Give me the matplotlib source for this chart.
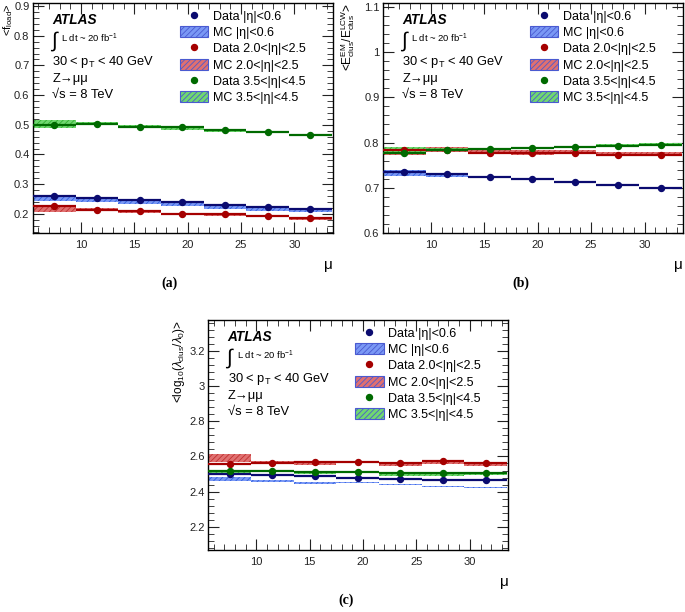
import numpy as np
import matplotlib

matplotlib.use("Agg")
import matplotlib.pyplot as plt
from matplotlib.lines import Line2D
from matplotlib.patches import Patch
from matplotlib.ticker import MultipleLocator, FuncFormatter

plt.rcParams["font.family"] = ["Liberation Sans", "DejaVu Sans"]
plt.rcParams["mathtext.fontset"] = "custom"
plt.rcParams["mathtext.rm"] = "Liberation Sans"
plt.rcParams["mathtext.it"] = "Liberation Sans:italic"
plt.rcParams["hatch.linewidth"] = 0.6

# mu bins (centres, half width 2)
mu = [7.5, 11.5, 15.5, 19.5, 23.5, 27.5, 31.5]
labels = ["Data |\u03b7|<0.6", "MC |\u03b7|<0.6",
          "Data 2.0<|\u03b7|<2.5", "MC 2.0<|\u03b7|<2.5",
          "Data 3.5<|\u03b7|<4.5", "MC 3.5<|\u03b7|<4.5"]

# (a) f_load
a_data_c = [0.259, 0.254, 0.247, 0.240, 0.231, 0.224, 0.216]
a_mc_c = [0.250, 0.245, 0.238, 0.230, 0.223, 0.215, 0.210]
a_data_f = [0.226, 0.214, 0.210, 0.201, 0.199, 0.194, 0.185]
a_mc_f = [0.216, 0.215, 0.209, 0.200, 0.198, 0.192, 0.185]
a_data_v = [0.500, 0.503, 0.493, 0.493, 0.481, 0.477, 0.466]
a_mc_v = [0.502, 0.504, 0.494, 0.489, 0.480, 0.475, 0.465]
a_err_c = [0.007, 0.006, 0.006, 0.005, 0.005, 0.005, 0.005]
a_err_f = [0.010, 0.006, 0.005, 0.004, 0.004, 0.004, 0.004]
a_err_v = [0.013, 0.006, 0.005, 0.006, 0.004, 0.004, 0.003]

# (b) E_EM / E_LCW
b_data_c = [0.735, 0.731, 0.725, 0.719, 0.713, 0.706, 0.700]
b_mc_c = [0.733, 0.729, 0.724, 0.719, 0.713, 0.706, 0.700]
b_data_f = [0.783, 0.784, 0.778, 0.776, 0.776, 0.773, 0.772]
b_mc_f = [0.780, 0.785, 0.780, 0.778, 0.779, 0.776, 0.776]
b_data_v = [0.778, 0.783, 0.786, 0.789, 0.791, 0.792, 0.795]
b_mc_v = [0.785, 0.785, 0.786, 0.788, 0.790, 0.793, 0.797]
b_err_c = [0.006, 0.004, 0.003, 0.002, 0.002, 0.002, 0.002]
b_err_f = [0.007, 0.006, 0.004, 0.005, 0.005, 0.003, 0.003]
b_err_v = [0.006, 0.004, 0.003, 0.003, 0.003, 0.003, 0.003]

# (c) log10(lambda_clus / lambda_0)
c_data_c = [2.500, 2.495, 2.490, 2.480, 2.473, 2.468, 2.467]
c_mc_c = [2.470, 2.460, 2.450, 2.450, 2.440, 2.430, 2.425]
c_data_f = [2.555, 2.562, 2.570, 2.570, 2.562, 2.572, 2.562]
c_mc_f = [2.592, 2.565, 2.562, 2.570, 2.556, 2.565, 2.556]
c_data_v = [2.520, 2.515, 2.510, 2.510, 2.508, 2.505, 2.505]
c_mc_v = [2.510, 2.515, 2.505, 2.510, 2.495, 2.495, 2.500]
c_err_c = [0.012, 0.004, 0.004, 0.003, 0.003, 0.004, 0.004]
c_err_f = [0.022, 0.008, 0.010, 0.006, 0.008, 0.008, 0.008]
c_err_v = [0.010, 0.004, 0.004, 0.004, 0.005, 0.004, 0.004]

DATA_COLORS = ["#0b0b70", "#a50000", "#006a00"]
MC_FILL = ["#7a98f5", "#e07070", "#70d870"]
MC_HATCH = ["#3060e0", "#c03030", "#30b030"]
EDGE = "#4a5ad0"


def draw_panel(ax, datas, mcs, errs, ylim, major, minor, ylabel, label_x, label_fs):
    x = np.asarray(mu)
    for i in range(3):
        mc = np.asarray(mcs[i])
        err = np.asarray(errs[i])
        ax.bar(x, 2 * err, bottom=mc - err, width=4.0, color=MC_FILL[i],
               edgecolor=MC_HATCH[i], linewidth=0, hatch="//////", zorder=2)
    for i in range(3):
        ax.errorbar(x, datas[i], xerr=2.0, fmt="o", color=DATA_COLORS[i],
                    markersize=4.3, elinewidth=1.6, capsize=0, zorder=3)
    ax.set_xlim(5.5, 33.6)
    ax.set_ylim(*ylim)
    ax.xaxis.set_major_locator(MultipleLocator(5))
    ax.xaxis.set_minor_locator(MultipleLocator(1))
    ax.yaxis.set_major_locator(MultipleLocator(major))
    ax.yaxis.set_minor_locator(MultipleLocator(minor))
    ax.yaxis.set_major_formatter(FuncFormatter(lambda v, p: f"{v:g}"))
    ax.tick_params(which="both", direction="in", top=True, right=True,
                   labelsize=8, colors="#222222")
    ax.tick_params(which="major", length=8)
    ax.tick_params(which="minor", length=4)
    ax.tick_params(axis="x", which="major", pad=5)
    ax.tick_params(axis="y", which="major", pad=2.5)
    for s in ax.spines.values():
        s.set_linewidth(1.0)
    ax.set_ylabel(ylabel, fontsize=label_fs, loc="top")
    ax.yaxis.set_label_coords(label_x, 1.0)
    ax.set_xlabel("\u03bc", fontsize=11, loc="right", labelpad=6)

    tx = 0.065
    ax.text(tx, 0.926, "ATLAS", transform=ax.transAxes, fontsize=9.8,
            fontweight="bold", fontstyle="italic", va="center")
    ax.text(tx - 0.008, 0.835, r"$\int$", transform=ax.transAxes, fontsize=15,
            va="center")
    ax.text(tx + 0.03, 0.845, r"L dt ~ 20 fb$^{-1}$", transform=ax.transAxes,
            fontsize=6.8, va="center")
    ax.text(tx, 0.743, r"30 < p$_{\rm T}$ < 40 GeV", transform=ax.transAxes,
            fontsize=9.3, va="center")
    ax.text(tx, 0.67, "Z\u2192\u03bc\u03bc", transform=ax.transAxes, fontsize=9.3,
            va="center")
    ax.text(tx, 0.60, "\u221as = 8 TeV", transform=ax.transAxes, fontsize=9.3,
            va="center")

    handles = []
    for i in range(3):
        handles.append(Line2D([], [], marker="o", linestyle="none",
                              color=DATA_COLORS[i], markersize=4.3))
        handles.append(Patch(facecolor=MC_FILL[i], edgecolor=EDGE,
                             linewidth=0.8, hatch="//////"))
    ax.legend(handles, labels, loc="upper left", bbox_to_anchor=(0.478, 0.985),
              frameon=False, fontsize=9, handlelength=2.25, handleheight=0.95,
              labelspacing=0.28, handletextpad=0.35, borderpad=0.3,
              borderaxespad=0.0)


fig = plt.figure(figsize=(6.85, 6.12), dpi=100)
ax_a = fig.add_axes([0.048, 0.619, 0.438, 0.376])
ax_b = fig.add_axes([0.559, 0.619, 0.438, 0.376])
ax_c = fig.add_axes([0.304, 0.101, 0.438, 0.376])

draw_panel(ax_a, [a_data_c, a_data_f, a_data_v], [a_mc_c, a_mc_f, a_mc_v],
           [a_err_c, a_err_f, a_err_v], (0.135, 0.91), 0.1, 0.02,
           r"<f$_{\rm load}$>", -0.058, 8)
draw_panel(ax_b, [b_data_c, b_data_f, b_data_v], [b_mc_c, b_mc_f, b_mc_v],
           [b_err_c, b_err_f, b_err_v], (0.6, 1.108), 0.1, 0.02,
           r"<E$^{\rm EM}_{\rm clus}$/E$^{\rm LCW}_{\rm clus}$>", -0.085, 8.5)
draw_panel(ax_c, [c_data_c, c_data_f, c_data_v], [c_mc_c, c_mc_f, c_mc_v],
           [c_err_c, c_err_f, c_err_v], (2.068, 3.374), 0.2, 0.04,
           r"<log$_{10}$($\lambda_{\rm clus}$/$\lambda_0$)>", -0.07, 8.5)

for txt, x, y in [("(a)", 0.248, 0.537), ("(b)", 0.760, 0.537), ("(c)", 0.505, 0.02)]:
    fig.text(x, y, txt, fontsize=10, fontweight="bold",
             family=["Liberation Serif", "DejaVu Serif"], ha="center", va="center")

fig.savefig("out.png", dpi=100)
